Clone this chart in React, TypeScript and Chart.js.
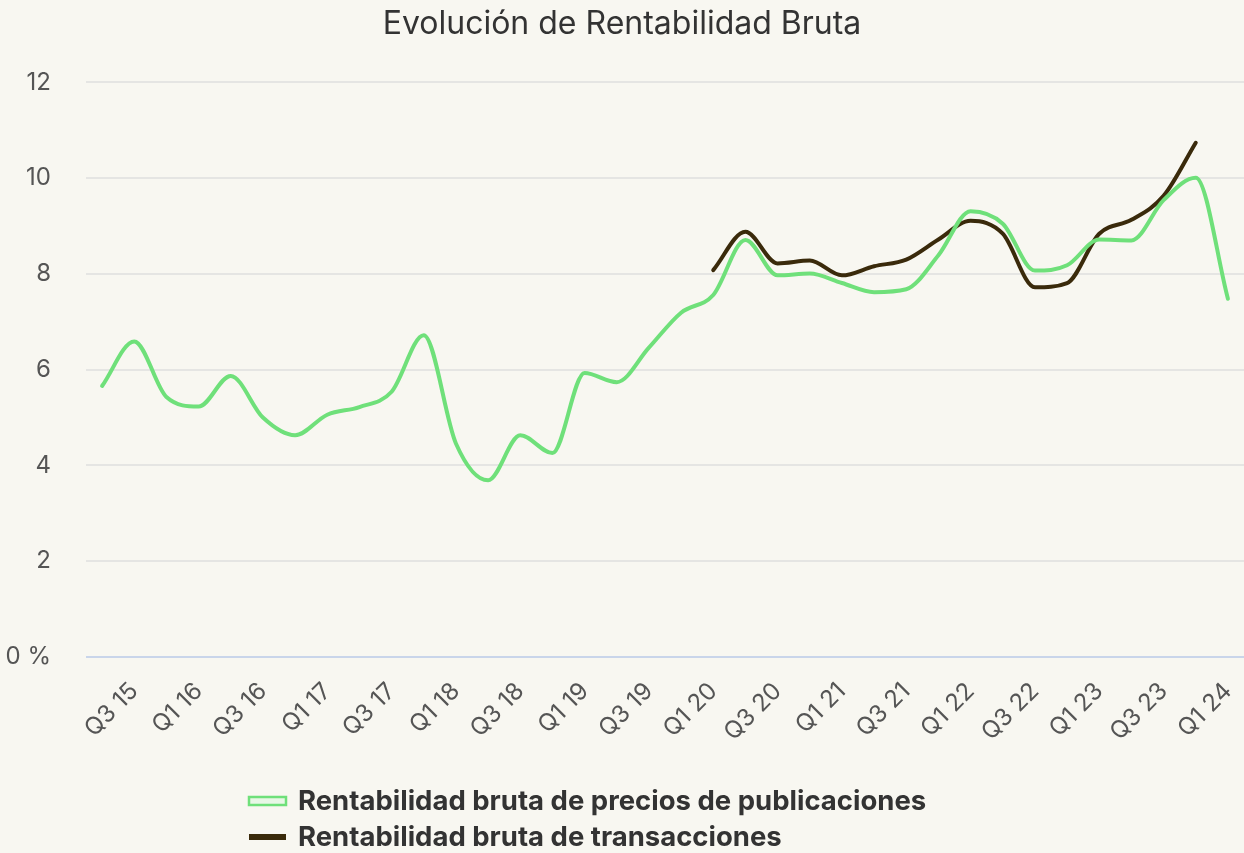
import React, { useEffect, useRef } from "react";
import { Chart, registerables } from "chart.js";

Chart.register(...registerables);

const quarters: string[] = [
  "Q2 15", "Q3 15", "Q4 15",
  "Q1 16", "Q2 16", "Q3 16", "Q4 16",
  "Q1 17", "Q2 17", "Q3 17", "Q4 17",
  "Q1 18", "Q2 18", "Q3 18", "Q4 18",
  "Q1 19", "Q2 19", "Q3 19", "Q4 19",
  "Q1 20", "Q2 20", "Q3 20", "Q4 20",
  "Q1 21", "Q2 21", "Q3 21", "Q4 21",
  "Q1 22", "Q2 22", "Q3 22", "Q4 22",
  "Q1 23", "Q2 23", "Q3 23", "Q4 23",
  "Q1 24",
];

const publicaciones: (number | null)[] = [
  5.66, 6.59, 5.43,
  5.23, 5.87, 5.0, 4.63,
  5.06, 5.22, 5.54, 6.72,
  4.46, 3.69, 4.63, 4.26,
  5.93, 5.74, 6.46, 7.19,
  7.56, 8.71, 7.97, 8.01,
  7.81, 7.62, 7.68, 8.39,
  9.31, 9.05, 8.07, 8.18,
  8.72, 8.7, 9.54, 10.01,
  7.48,
];

const transacciones: (number | null)[] = [
  null, null, null,
  null, null, null, null,
  null, null, null, null,
  null, null, null, null,
  null, null, null, null,
  8.08, 8.88, 8.22, 8.28,
  7.97, 8.16, 8.3, 8.72,
  9.11, 8.84, 7.72, 7.81,
  8.84, 9.13, 9.63, 10.74,
  null,
];

const seriesNames: string[] = [
  "Rentabilidad bruta de precios de publicaciones",
  "Rentabilidad bruta de transacciones",
];

const yTicks: number[] = [0, 2, 4, 6, 8, 10, 12];

const GREEN = "#6fe07a";
const DARK = "#3a2a0b";
const FONT = "Inter";

const legendPlugin = {
  id: "stackedLegend",
  afterDraw(chart: any) {
    const ctx = chart.ctx;
    const ds = chart.data.datasets;
    const x0 = 249;
    const baselines = [810, 846];
    ctx.save();
    ctx.font = `bold 27.5px ${FONT}`;
    ctx.textBaseline = "alphabetic";
    ctx.textAlign = "left";
    ds.forEach((d: any, i: number) => {
      const b = baselines[i];
      const cy = b - 9;
      if (i === 0) {
        ctx.fillStyle = "#e8f7e6";
        ctx.fillRect(x0, cy - 4, 37, 8);
        ctx.strokeStyle = d.borderColor;
        ctx.lineWidth = 2.5;
        ctx.strokeRect(x0, cy - 4, 37, 8);
      } else {
        ctx.fillStyle = d.borderColor;
        ctx.fillRect(x0, cy - 3, 37, 6);
      }
      ctx.fillStyle = "#333333";
      ctx.fillText(d.label, 298, b);
    });
    ctx.restore();
  },
};

export default function App() {
  const ref = useRef<HTMLCanvasElement | null>(null);

  useEffect(() => {
    if (!ref.current) return;
    const chart = new Chart(ref.current, {
      type: "line",
      data: {
        labels: quarters,
        datasets: [
          {
            label: seriesNames[0],
            data: publicaciones,
            borderColor: GREEN,
            backgroundColor: GREEN,
            borderWidth: 4,
            pointRadius: 0,
            cubicInterpolationMode: "monotone",
            borderCapStyle: "round",
            borderJoinStyle: "round",
            spanGaps: false,
          },
          {
            label: seriesNames[1],
            data: transacciones,
            borderColor: DARK,
            backgroundColor: DARK,
            borderWidth: 4,
            pointRadius: 0,
            cubicInterpolationMode: "monotone",
            borderCapStyle: "round",
            borderJoinStyle: "round",
            spanGaps: false,
          },
        ],
      },
      options: {
        responsive: false,
        animation: false,
        layout: { padding: { left: 0, right: 0, top: 0, bottom: 86 } },
        plugins: {
          legend: { display: false },
          tooltip: { enabled: false },
          title: {
            display: true,
            text: "Evolución de Rentabilidad Bruta",
            color: "#333333",
            font: { family: FONT, size: 32, weight: "normal" },
            padding: { top: 5, bottom: 39 },
          },
        },
        scales: {
          x: {
            offset: true,
            grid: { display: false, drawTicks: false },
            border: { display: false },
            afterFit: (s: any) => {
              s.height = 110;
              s.paddingLeft = 0;
              s.paddingRight = 0;
            },
            ticks: {
              autoSkip: false,
              minRotation: 45,
              maxRotation: 45,
              padding: 20,
              color: "#555555",
              font: { family: FONT, size: 24 },
              callback: (_v: any, i: number) => (i % 2 === 1 ? quarters[i] : ""),
            },
          },
          y: {
            min: 0,
            max: 12,
            afterFit: (s: any) => {
              s.width = 86;
            },
            afterBuildTicks: (s: any) => {
              s.ticks = yTicks.map((v) => ({ value: v }));
            },
            grid: {
              drawTicks: false,
              lineWidth: 2,
              color: (c: any) => (c.tick && c.tick.value === 0 ? "#c9d5ea" : "#e5e5e3"),
            },
            border: { display: false },
            ticks: {
              padding: 35,
              color: "#555555",
              font: { family: FONT, size: 24 },
              callback: (v: any) => (Number(v) === 0 ? "0 %" : String(v)),
            },
          },
        },
      },
      plugins: [legendPlugin],
    } as any);
    return () => chart.destroy();
  }, []);

  return (
    <div
      style={{
        position: "fixed",
        left: 0,
        top: 0,
        width: 1244,
        height: 853,
        background: "#f8f7f1",
      }}
    >
      <canvas ref={ref} width={1244} height={853} style={{ display: "block" }} />
    </div>
  );
}
